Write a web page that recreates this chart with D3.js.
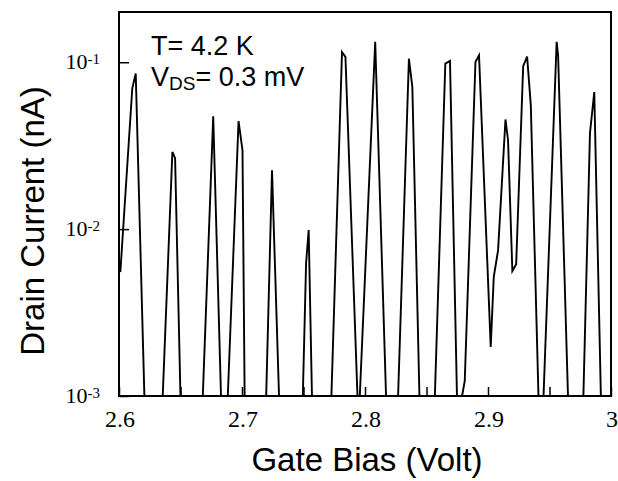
<!DOCTYPE html>
<html><head><meta charset="utf-8">
<script src="https://cdn.jsdelivr.net/npm/d3@7"></script>
<style>
body{margin:0;background:#fff;}
svg{display:block;}
</style></head>
<body>
<svg id="chart" width="618" height="481"></svg>
<script>
// Gate bias (V) and drain current (nA); values below 1e-3 are off-scale
const gateBias = [
 2.6000,2.6011,2.6108,2.6136,2.6208,
 2.6353,2.6434,2.6456,2.6501,
 2.6679,2.6766,2.6831,
 2.6882,2.6972,2.7004,2.7022,
 2.7195,2.7244,2.7303,
 2.7493,2.7521,2.7542,2.7570,
 2.7725,2.7813,2.7841,2.7941,
 2.7955,2.8083,2.8173,
 2.8267,2.8357,2.8385,2.8444,
 2.8566,2.8653,2.8691,2.8749,
 2.8778,2.8811,2.8898,2.8927,2.9022,2.9047,2.9082,2.9142,2.9163,2.9198,2.9229,2.9286,2.9318,2.9348,2.9412,
 2.9449,2.9558,2.9570,2.9652,
 2.9774,2.9829,2.9864,2.9919,3.0000
];
const drainCurrent = [
 0.00634,0.00553,0.0698,0.0855,0.0009,
 0.0009,0.0290,0.0266,0.0009,
 0.0009,0.0475,0.0009,
 0.0009,0.0444,0.0297,0.0009,
 0.0009,0.0225,0.0009,
 0.0009,0.00625,0.00986,0.0009,
 0.0009,0.115,0.1077,0.0009,
 0.0009,0.1324,0.0009,
 0.0009,0.105,0.0711,0.0009,
 0.0009,0.0982,0.1018,0.0009,
 0.0009,0.00123,0.1004,0.110,0.00197,0.00518,0.00748,0.0454,0.0341,0.00561,0.00617,0.0946,0.108,0.0553,0.0009,
 0.0009,0.1324,0.110,0.0009,
 0.0009,0.0376,0.0663,0.0009,0.0009
];
const xMajorTicks = [2.6,2.7,2.8,2.9,3.0];
const xTickLabels = ["2.6","2.7","2.8","2.9","3"];
const xMinorTicks = [2.65,2.75,2.85,2.95];
const yTicks = [0.001,0.01,0.1];
const yTickExponents = ["-3","-2","-1"];
const xTitle = "Gate Bias (Volt)";
const yTitle = "Drain Current (nA)";

const L=119,R=611,T=12,B=396;
const svg = d3.select("#chart");
svg.append("rect").attr("width",618).attr("height",481).attr("fill","#fff");

const x = d3.scaleLinear().domain([2.6,3.0]).range([L,R]);
const y = d3.scaleLog().domain([0.001,0.2]).range([B,T]);

svg.append("clipPath").attr("id","clip").append("rect")
  .attr("x",L).attr("y",T).attr("width",R-L).attr("height",B-T);

const data = gateBias.map((v,i)=>[v,drainCurrent[i]]);
svg.append("path").datum(data)
  .attr("clip-path","url(#clip)")
  .attr("fill","none").attr("stroke","#000").attr("stroke-width",1.9)
  .attr("stroke-linejoin","miter")
  .attr("d",d3.line().x(d=>x(d[0])).y(d=>y(d[1])));

// x axis ticks (inward)
const xAxis = d3.axisBottom(x).tickValues(xMajorTicks.concat(xMinorTicks)).tickSize(-9).tickFormat("");
const gx = svg.append("g").attr("transform",`translate(0,${B})`).call(xAxis);
gx.select(".domain").remove();
gx.selectAll("line").attr("stroke","#000").attr("stroke-width",1.5);

svg.selectAll("text.xl").data(xMajorTicks).enter().append("text")
  .attr("class","xl").attr("x",d=>x(d)+1).attr("y",427)
  .attr("text-anchor","middle")
  .attr("font-family","'Liberation Serif','Times New Roman',serif")
  .attr("font-size",24).text((d,i)=>xTickLabels[i]);

// y axis ticks (inward)
const yAxis = d3.axisLeft(y).tickValues(yTicks).tickSize(-10).tickFormat("");
const gy = svg.append("g").attr("transform",`translate(${L},0)`).call(yAxis);
gy.select(".domain").remove();
gy.selectAll("line").attr("stroke","#000").attr("stroke-width",1.5);

const yl = svg.selectAll("text.yl").data(yTicks).enter().append("text")
  .attr("class","yl").attr("x",100).attr("y",d=>y(d)+7)
  .attr("text-anchor","end")
  .attr("font-family","'Liberation Serif','Times New Roman',serif")
  .attr("font-size",22);
yl.append("tspan").text("10");
yl.append("tspan").attr("font-size",15).attr("dy",-5).text((d,i)=>yTickExponents[i]);

// frame
svg.append("rect").attr("x",L).attr("y",T).attr("width",R-L).attr("height",B-T)
  .attr("fill","none").attr("stroke","#000").attr("stroke-width",2);

// titles
svg.append("text").attr("x",(L+R)/2+2).attr("y",471).attr("text-anchor","middle")
  .attr("font-family","'Liberation Sans',Arial,sans-serif").attr("font-size",33).text(xTitle);
svg.append("text").attr("transform","translate(44,221) rotate(-90)").attr("text-anchor","middle")
  .attr("font-family","'Liberation Sans',Arial,sans-serif").attr("font-size",33).text(yTitle);

// annotation
const ann = svg.append("g").attr("font-family","'Liberation Sans',Arial,sans-serif").attr("font-size",27);
ann.append("text").attr("x",151).attr("y",55).text("T= 4.2 K");
const t2 = ann.append("text").attr("x",151).attr("y",86);
t2.append("tspan").text("V");
t2.append("tspan").attr("font-size",19).attr("dy",4).text("DS");
t2.append("tspan").attr("dy",-4).text("= 0.3 mV");
</script>
</body></html>
